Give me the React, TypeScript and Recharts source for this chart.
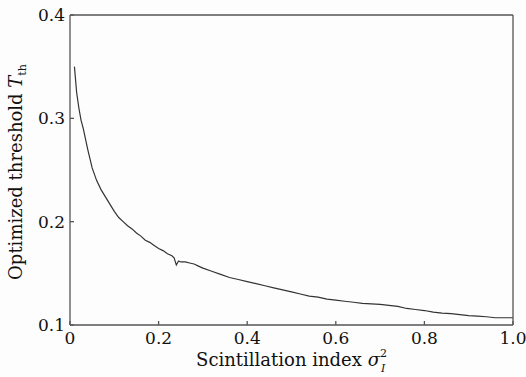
import { LineChart, Line, XAxis, YAxis, Label } from "recharts";

// scintillation index (x) and optimized threshold (y)
const sigma = [
  0.01, 0.015, 0.02, 0.025, 0.03, 0.04, 0.05, 0.06, 0.07, 0.08, 0.09, 0.1,
  0.11, 0.12, 0.13, 0.14, 0.15, 0.16, 0.17, 0.18, 0.19, 0.2, 0.21, 0.22, 0.23,
  0.235, 0.24, 0.245, 0.25, 0.26, 0.27, 0.28, 0.29, 0.3, 0.32, 0.34, 0.36,
  0.38, 0.4, 0.42, 0.44, 0.46, 0.48, 0.5, 0.52, 0.54, 0.56, 0.58, 0.6, 0.62,
  0.64, 0.66, 0.68, 0.7, 0.72, 0.74, 0.76, 0.78, 0.8, 0.82, 0.84, 0.86, 0.88,
  0.9, 0.92, 0.94, 0.96, 0.98, 1.0,
];
const threshold = [
  0.35, 0.325, 0.31, 0.298, 0.29, 0.27, 0.252, 0.24, 0.231, 0.224, 0.217,
  0.21, 0.204, 0.2, 0.196, 0.193, 0.189, 0.186, 0.182, 0.18, 0.177, 0.174,
  0.172, 0.169, 0.167, 0.165, 0.158, 0.162, 0.161, 0.161, 0.16, 0.159, 0.157,
  0.155, 0.152, 0.149, 0.146, 0.144, 0.142, 0.14, 0.138, 0.136, 0.134, 0.132,
  0.13, 0.128, 0.127, 0.125, 0.124, 0.123, 0.122, 0.121, 0.1205, 0.12, 0.119,
  0.118, 0.116, 0.115, 0.114, 0.1125, 0.1115, 0.111, 0.11, 0.109, 0.1085,
  0.108, 0.107, 0.107, 0.107,
];
const xTicks = [0, 0.2, 0.4, 0.6, 0.8, 1.0];
const yTicks = [0.1, 0.2, 0.3, 0.4];

const data = sigma.map((s, i) => ({ s, t: threshold[i] }));

const font = '"DejaVu Serif", "Liberation Serif", serif';
const axisColor = "#555";
const tickStyle = { fontSize: 17, fill: "#111", fontFamily: font };

const fmtX = (v: number) => (v === 0 ? "0" : v.toFixed(1));

export default function App() {
  return (
    <div style={{ position: "absolute", left: 0, top: 0, background: "#fdfdfd", fontFamily: font }}>
      <LineChart
        width={526}
        height={377}
        data={data}
        margin={{ top: 14, right: 12, bottom: 0, left: 0 }}
        style={{ fontFamily: font }}
      >
        <XAxis
          xAxisId="b"
          dataKey="s"
          type="number"
          domain={[0, 1]}
          ticks={xTicks}
          tickFormatter={fmtX}
          height={52}
          stroke={axisColor}
          strokeWidth={1.3}
          tickSize={-4}
          tickMargin={11}
          tick={tickStyle}
        >
          <Label
            content={({ viewBox }: any) => (
              <text
                x={viewBox.x + viewBox.width / 2}
                y={viewBox.y + 41}
                textAnchor="middle"
                style={{ fontFamily: font }}
                fontSize={18}
                fill="#111"
              >
                Scintillation index{" "}
                <tspan fontStyle="italic">σ</tspan>
                <tspan fontSize={11} dy={-9}>2</tspan>
                <tspan fontSize={11} fontStyle="italic" dx={-6} dy={15}>I</tspan>
              </text>
            )}
          />
        </XAxis>
        <XAxis
          xAxisId="t"
          dataKey="s"
          type="number"
          orientation="top"
          domain={[0, 1]}
          ticks={xTicks}
          height={1}
          stroke={axisColor}
          strokeWidth={1.3}
          tickSize={-4}
          tick={false}
        />
        <YAxis
          yAxisId="l"
          type="number"
          domain={[0.1, 0.4]}
          ticks={yTicks}
          tickFormatter={(v: number) => v.toFixed(1)}
          width={70}
          stroke={axisColor}
          strokeWidth={1.3}
          tickSize={-4}
          tickMargin={9}
          tick={tickStyle}
        >
          <Label
            content={({ viewBox }: any) => {
              const cx = viewBox.x + 22;
              const cy = viewBox.y + viewBox.height / 2 + 2;
              return (
                <text
                  x={cx}
                  y={cy}
                  transform={`rotate(-90 ${cx} ${cy})`}
                  textAnchor="middle"
                  style={{ fontFamily: font }}
                  fontSize={18}
                  fill="#111"
                >
                  Optimized threshold{" "}
                  <tspan fontStyle="italic">T</tspan>
                  <tspan fontSize={11} dy={4}>th</tspan>
                </text>
              );
            }}
          />
        </YAxis>
        <YAxis
          yAxisId="r"
          type="number"
          orientation="right"
          domain={[0.1, 0.4]}
          ticks={yTicks}
          width={1}
          stroke={axisColor}
          strokeWidth={1.3}
          tickSize={-4}
          tick={false}
        />
        <Line
          xAxisId="b"
          yAxisId="l"
          dataKey="t"
          type="linear"
          stroke="#333"
          strokeWidth={1.2}
          dot={false}
          isAnimationActive={false}
        />
      </LineChart>
    </div>
  );
}
